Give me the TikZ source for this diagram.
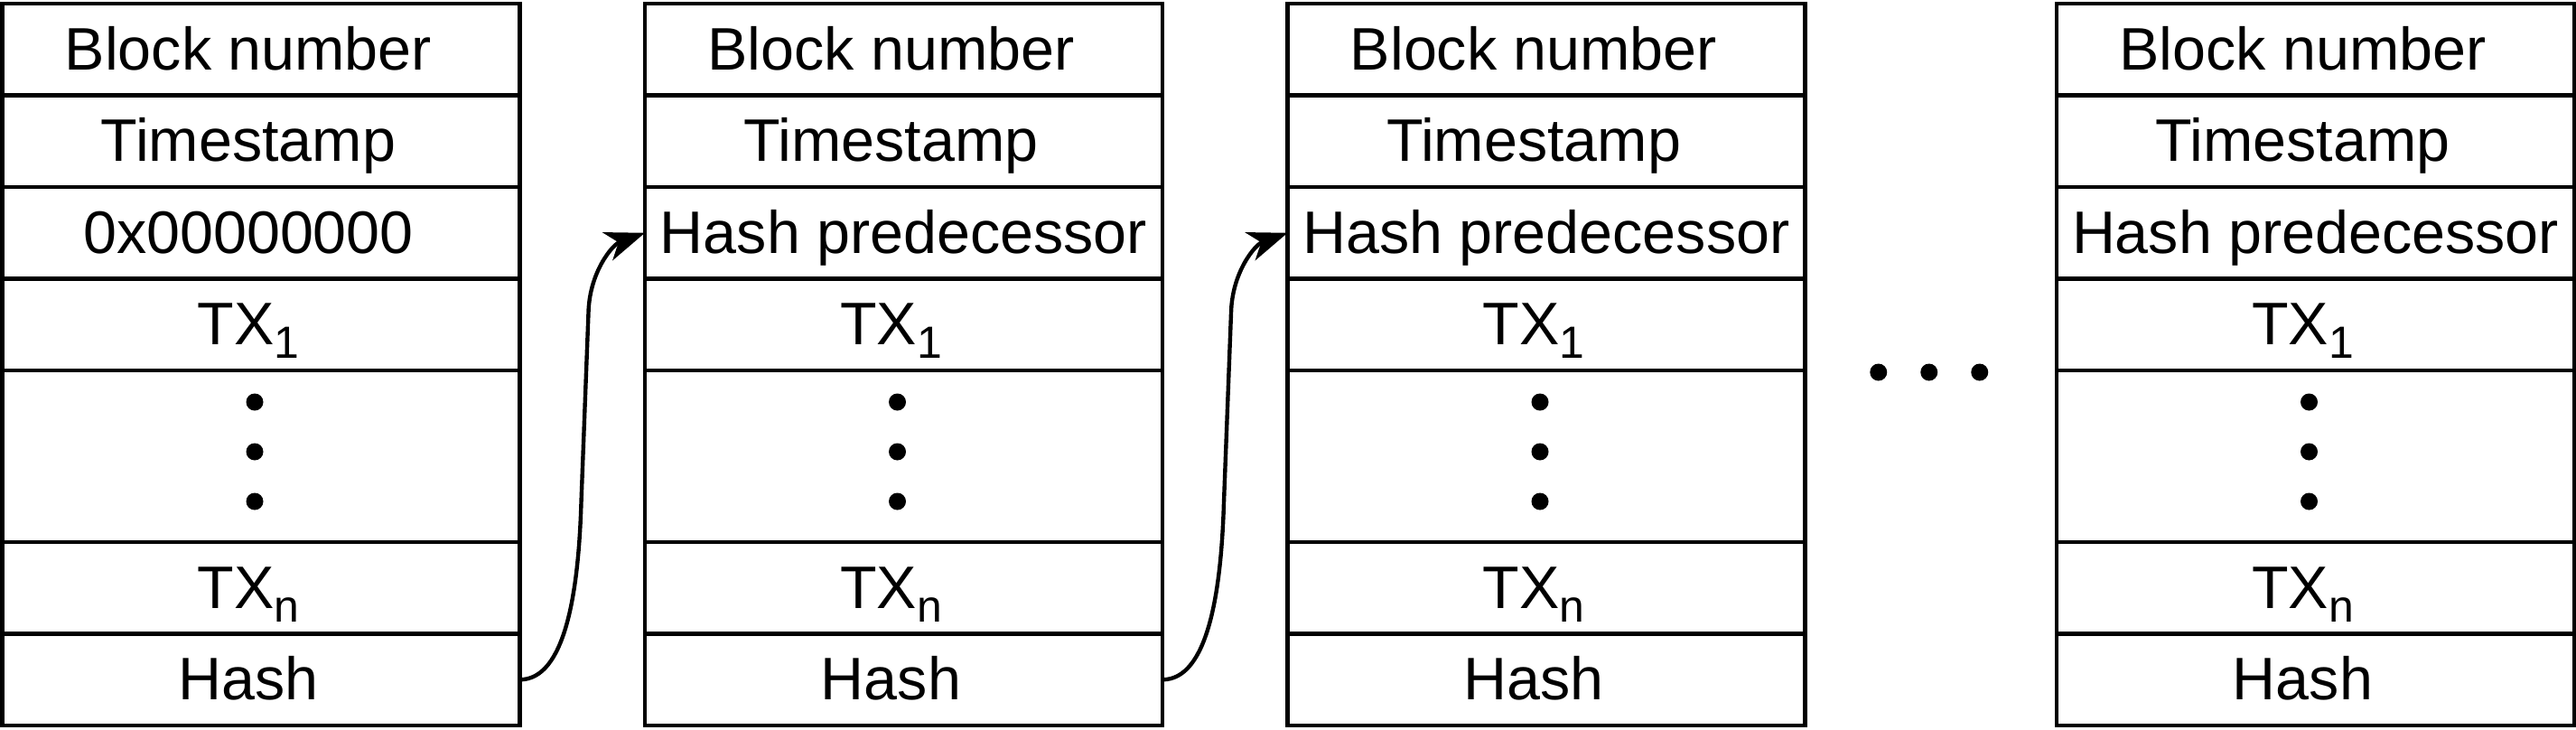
\documentclass[tikz,border=0pt]{standalone}
\usepackage{fontspec}
\setmainfont{Liberation Sans}
\usetikzlibrary{positioning,calc,arrows.meta}
\newcommand{\txsub}[1]{\raisebox{-0.15cm}{\fontsize{14.2}{16}\selectfont #1}}
\tikzset{
  cell/.style={draw, line width=1.33pt, minimum width=5.73cm, minimum height=1.015cm,
    inner sep=0pt, outer sep=0pt, text height=12.8pt, text depth=0pt,
    font=\fontsize{18.9}{22}\selectfont},
  row/.style={cell, execute at begin node={\hspace*{-2.8mm}}},
  fullrow/.style={cell},
  dotsrow/.style={cell, minimum height=1.9cm},
  link/.style={-{Stealth[length=4.4mm, width=3.3mm, inset=1.3mm]}, line width=1.25pt},
}
\begin{document}
\begin{tikzpicture}
\useasboundingbox (0,0) rectangle (28.52,8.07);
% block 1
\node[row, anchor=north west] (b1num) at (0.025,8.03) {Block number};
\node[row, below=0pt of b1num] (b1time) {Timestamp};
\node[row, below=0pt of b1time] (b1prev) {0x00000000};
\node[row, below=0pt of b1prev] (b1tx1) {TX\txsub{1}};
\node[dotsrow, below=0pt of b1tx1] (b1dots) {};
\node[row, below=0pt of b1dots] (b1txn) {TX\txsub{n}};
\node[row, below=0pt of b1txn] (b1hash) {Hash};
% block 2
\node[row, anchor=north west] (b2num) at (7.14,8.03) {Block number};
\node[row, below=0pt of b2num] (b2time) {Timestamp};
\node[fullrow, below=0pt of b2time] (b2prev) {Hash predecessor};
\node[row, below=0pt of b2prev] (b2tx1) {TX\txsub{1}};
\node[dotsrow, below=0pt of b2tx1] (b2dots) {};
\node[row, below=0pt of b2dots] (b2txn) {TX\txsub{n}};
\node[row, below=0pt of b2txn] (b2hash) {Hash};
% block 3
\node[row, anchor=north west] (b3num) at (14.255,8.03) {Block number};
\node[row, below=0pt of b3num] (b3time) {Timestamp};
\node[fullrow, below=0pt of b3time] (b3prev) {Hash predecessor};
\node[row, below=0pt of b3prev] (b3tx1) {TX\txsub{1}};
\node[dotsrow, below=0pt of b3tx1] (b3dots) {};
\node[row, below=0pt of b3dots] (b3txn) {TX\txsub{n}};
\node[row, below=0pt of b3txn] (b3hash) {Hash};
% block 4
\node[row, anchor=north west] (b4num) at (22.77,8.03) {Block number};
\node[row, below=0pt of b4num] (b4time) {Timestamp};
\node[fullrow, below=0pt of b4time] (b4prev) {Hash predecessor};
\node[row, below=0pt of b4prev] (b4tx1) {TX\txsub{1}};
\node[dotsrow, below=0pt of b4tx1] (b4dots) {};
\node[row, below=0pt of b4dots] (b4txn) {TX\txsub{n}};
\node[row, below=0pt of b4txn] (b4hash) {Hash};
% vertical dots
\fill ([xshift=-0.07cm,yshift=0.6cm]b1dots.center) circle (0.095);
\fill ([xshift=-0.07cm,yshift=0.05cm]b1dots.center) circle (0.095);
\fill ([xshift=-0.07cm,yshift=-0.5cm]b1dots.center) circle (0.095);
\fill ([xshift=-0.07cm,yshift=0.6cm]b2dots.center) circle (0.095);
\fill ([xshift=-0.07cm,yshift=0.05cm]b2dots.center) circle (0.095);
\fill ([xshift=-0.07cm,yshift=-0.5cm]b2dots.center) circle (0.095);
\fill ([xshift=-0.07cm,yshift=0.6cm]b3dots.center) circle (0.095);
\fill ([xshift=-0.07cm,yshift=0.05cm]b3dots.center) circle (0.095);
\fill ([xshift=-0.07cm,yshift=-0.5cm]b3dots.center) circle (0.095);
\fill ([xshift=-0.07cm,yshift=0.6cm]b4dots.center) circle (0.095);
\fill ([xshift=-0.07cm,yshift=0.05cm]b4dots.center) circle (0.095);
\fill ([xshift=-0.07cm,yshift=-0.5cm]b4dots.center) circle (0.095);
% dots between block 3 and block 4
\coordinate (gap) at ($(b3dots.north east)!0.5!(b4dots.north west)+(-0.02,-0.02)$);
\fill ([xshift=-0.56cm]gap) circle (0.095);
\fill (gap) circle (0.095);
\fill ([xshift=0.56cm]gap) circle (0.095);
% links
\draw[link] (b1hash.east) .. controls +(0.5,0) and +(-0.03,-1.0) .. ++(0.68,1.96)
  -- ++(0.08,2.1) .. controls +(0.01,0.45) and +(-0.36,-0.13) .. (b2prev.west);
\draw[link] (b2hash.east) .. controls +(0.5,0) and +(-0.03,-1.0) .. ++(0.68,1.96)
  -- ++(0.08,2.1) .. controls +(0.01,0.45) and +(-0.36,-0.13) .. (b3prev.west);
\end{tikzpicture}
\end{document}
